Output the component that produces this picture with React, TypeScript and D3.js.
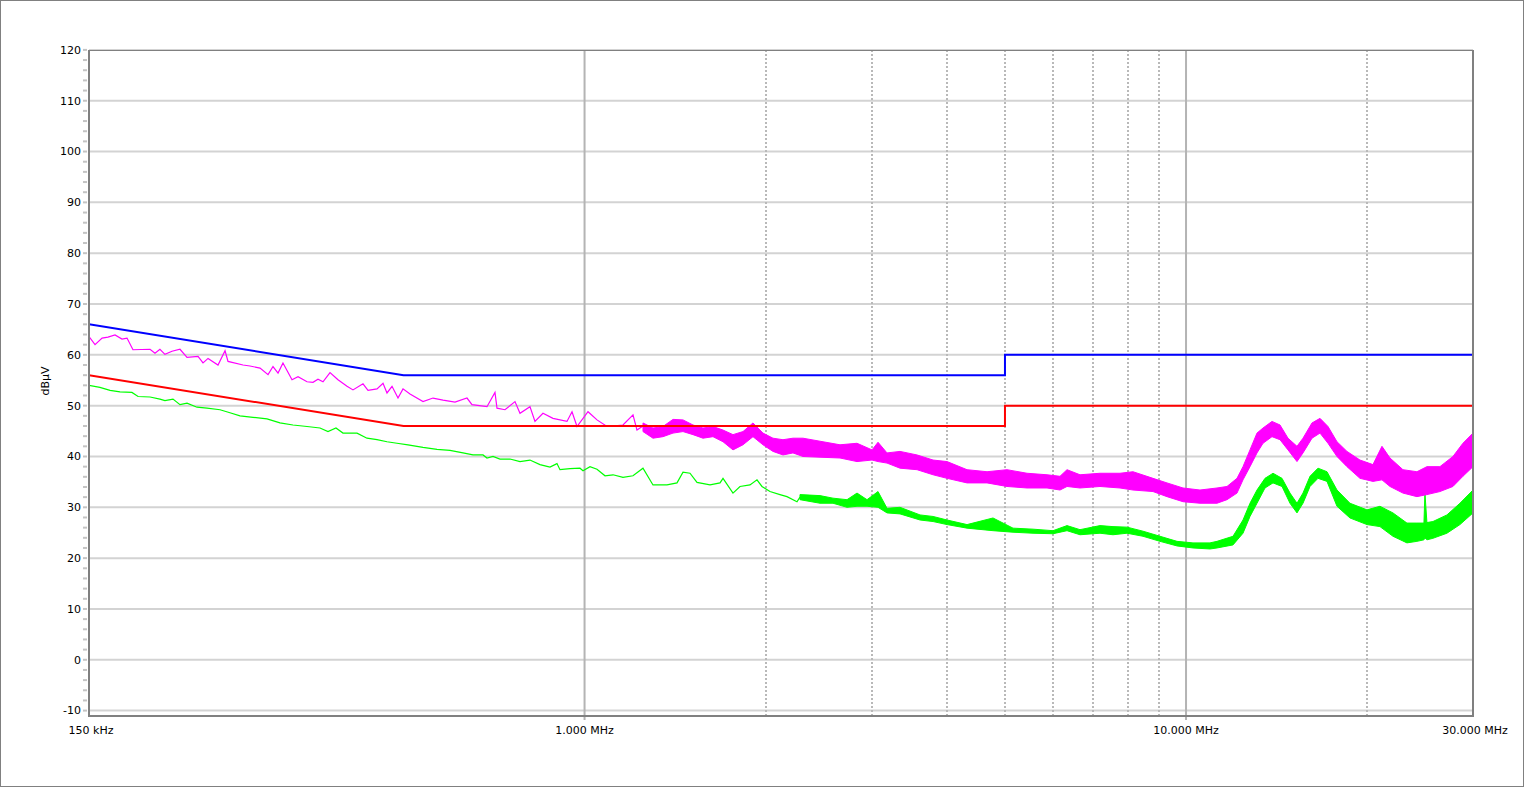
import React from "react";
import * as d3 from "d3";

// ---------- axes ----------
const Y_TICKS = [-10, 0, 10, 20, 30, 40, 50, 60, 70, 80, 90, 100, 110, 120];
const X_LABEL_FREQS = [0.15, 1, 10, 30];
const X_LABELS = ["150 kHz", "1.000 MHz", "10.000 MHz", "30.000 MHz"];
const X_MAJOR_GRID = [1, 10];
const X_MINOR_GRID = [2, 3, 4, 5, 6, 7, 8, 9, 20];
const Y_LABEL = "dBµV";

// ---------- limit lines (MHz, dBµV) ----------
const QP_LIMIT: [number, number][] = [[0.15, 66], [0.5, 56], [5, 56], [5, 60], [30, 60]];
const AV_LIMIT: [number, number][] = [[0.15, 56], [0.5, 46], [5, 46], [5, 50], [30, 50]];

// ---------- peak trace (magenta) ----------
const PEAK_LINE: [number, number][] = [
  [0.15, 63.6], [0.1535, 62.0], [0.1577, 63.3], [0.1613, 63.5], [0.1657, 63.9], [0.1702, 63.1],
  [0.1735, 63.3], [0.1775, 61.0], [0.1895, 61.1], [0.1931, 60.3], [0.1968, 61.1], [0.2006, 60.1],
  [0.2061, 60.7], [0.2125, 61.1], [0.2183, 59.5], [0.2277, 59.7], [0.2321, 58.4], [0.2366, 59.3],
  [0.2458, 58.0], [0.2525, 60.8], [0.2554, 58.7], [0.2705, 58.0], [0.2778, 57.8], [0.2887, 57.4],
  [0.2977, 56.1], [0.3034, 57.7], [0.3093, 56.4], [0.3152, 58.4], [0.3263, 55.1], [0.3339, 55.7],
  [0.3456, 54.7], [0.3536, 54.6], [0.3604, 55.2], [0.3674, 54.7], [0.3774, 56.5], [0.3891, 55.1],
  [0.4028, 53.8], [0.4121, 53.1], [0.4282, 54.3], [0.4365, 53.0], [0.4518, 53.3], [0.4623, 54.4],
  [0.4694, 52.5], [0.4785, 53.8], [0.4896, 51.5], [0.4991, 53.3], [0.5126, 52.3], [0.5388, 50.8],
  [0.5598, 51.5], [0.5817, 51.1], [0.609, 50.7], [0.6376, 51.5], [0.6499, 50.2], [0.6883, 49.8],
  [0.7097, 52.6], [0.7152, 49.5], [0.7374, 49.2], [0.7662, 50.8], [0.781, 48.5], [0.8114, 49.8],
  [0.8271, 46.9], [0.8528, 48.5], [0.8861, 47.5], [0.9349, 46.9], [0.9531, 48.8], [0.9715, 45.9],
  [1.0133, 48.8], [1.0488, 47.2], [1.0897, 45.9], [1.1585, 46.2], [1.2038, 48.2], [1.2223, 45.2],
  [1.2507, 46.0],
];
// [MHz, low, high] envelope of the dense part of the peak trace
const PEAK_BAND: [number, number, number][] = [
  [1.2507, 44.9, 46.6], [1.2995, 43.6, 45.6], [1.3502, 43.9, 45.9], [1.403, 44.6, 47.3],
  [1.4577, 44.9, 47.2], [1.5146, 44.3, 46.2], [1.5737, 43.6, 45.6], [1.6351, 43.9, 45.9],
  [1.699, 42.9, 45.2], [1.7652, 41.3, 44.3], [1.8341, 42.3, 44.9], [1.9056, 43.9, 46.6],
  [1.9799, 42.3, 44.6], [2.0572, 41.0, 43.6], [2.1374, 40.3, 43.3], [2.2209, 40.7, 43.6],
  [2.3076, 40.0, 43.6], [2.6589, 39.7, 42.3], [2.8379, 39.0, 42.6], [3.0057, 39.3, 41.3],
  [3.0755, 39.0, 42.8], [3.1834, 38.7, 40.7], [3.346, 37.7, 41.0], [3.5711, 37.4, 40.3],
  [3.7967, 36.4, 39.3], [4.0059, 35.7, 39.0], [4.3244, 34.8, 37.4], [4.6683, 34.8, 37.0],
  [5.0397, 34.1, 37.4], [5.4405, 33.8, 36.7], [5.8733, 33.8, 36.4], [6.1729, 33.4, 36.1],
  [6.3405, 34.1, 37.4], [6.664, 33.8, 36.4], [7.1942, 34.1, 36.7], [7.7666, 33.8, 36.7],
  [8.1627, 33.4, 37.0], [8.8123, 33.1, 35.7], [9.2975, 32.1, 34.8], [9.8848, 31.1, 33.8],
  [10.549, 30.8, 33.4], [11.259, 30.8, 33.8], [11.698, 31.5, 34.1], [12.155, 32.8, 35.7],
  [12.437, 35.4, 38.0], [12.775, 38.0, 41.3], [13.122, 40.7, 44.6], [13.427, 42.6, 45.6],
  [13.897, 43.9, 46.9], [14.33, 43.3, 46.2], [14.775, 41.3, 43.6], [15.293, 39.0, 42.0],
  [15.648, 40.7, 43.6], [16.197, 43.6, 46.6], [16.701, 44.6, 47.5], [17.22, 42.6, 45.9],
  [17.824, 40.0, 42.9], [18.518, 38.0, 41.0], [19.462, 35.7, 39.3], [20.455, 35.1, 38.4],
  [21.172, 35.4, 42.0], [21.831, 34.1, 39.7], [22.942, 32.8, 37.4], [24.205, 32.1, 37.0],
  [25.149, 32.5, 38.0], [26.433, 33.1, 38.0], [27.782, 34.1, 40.0], [28.866, 36.1, 42.6],
  [30.0, 38.0, 44.6],
];

// ---------- average trace (green) ----------
const AVG_LINE: [number, number][] = [
  [0.15, 54.0], [0.1564, 53.6], [0.1626, 53.0], [0.1689, 52.7], [0.1768, 52.6], [0.181, 51.8],
  [0.1895, 51.7], [0.1968, 51.3], [0.2006, 51.0], [0.2069, 51.3], [0.2125, 50.2], [0.2183, 50.5],
  [0.2268, 49.7], [0.2357, 49.5], [0.2477, 49.2], [0.2573, 48.6], [0.2674, 48.0], [0.281, 47.7],
  [0.2965, 47.4], [0.3116, 46.6], [0.3275, 46.2], [0.3456, 45.9], [0.3632, 45.6], [0.3745, 44.9],
  [0.3861, 45.6], [0.3966, 44.6], [0.4185, 44.6], [0.4348, 43.6], [0.4518, 43.3], [0.4694, 42.9],
  [0.4877, 42.6], [0.5087, 42.3], [0.5388, 41.8], [0.5685, 41.4], [0.5974, 41.2], [0.6279, 40.7],
  [0.6524, 40.3], [0.6779, 40.3], [0.6883, 39.7], [0.7043, 40.0], [0.7234, 39.5], [0.7517, 39.5],
  [0.781, 39.0], [0.8114, 39.3], [0.8431, 38.4], [0.876, 37.9], [0.8998, 38.6], [0.9102, 37.4],
  [0.9458, 37.6], [0.9827, 37.7], [0.9941, 37.2], [1.0211, 38.0], [1.0488, 37.5], [1.0814, 36.2],
  [1.115, 36.4], [1.1585, 35.9], [1.2038, 36.2], [1.2507, 37.7], [1.2995, 34.4], [1.3711, 34.4],
  [1.4246, 34.8], [1.4577, 36.9], [1.4973, 36.7], [1.538, 34.9], [1.6165, 34.4], [1.6796, 34.8],
  [1.699, 35.7], [1.7652, 32.8], [1.8131, 34.1], [1.8838, 34.4], [1.935, 35.4], [1.9723, 34.1],
  [2.0337, 33.1], [2.113, 32.5], [2.1704, 32.1], [2.2552, 31.1], [2.2812, 32.0],
];
const AVG_BAND: [number, number, number][] = [
  [2.2812, 31.5, 32.5], [2.4629, 30.8, 32.3], [2.5886, 30.8, 31.8], [2.7312, 30.0, 31.5],
  [2.8379, 30.2, 32.8], [2.9487, 30.2, 31.5], [3.0755, 30.0, 33.1], [3.1834, 28.9, 29.8],
  [3.346, 28.7, 30.0], [3.6124, 27.5, 28.5], [3.7967, 27.2, 28.2], [4.0059, 26.6, 27.5],
  [4.3244, 25.9, 26.6], [4.7767, 25.4, 27.9], [5.1568, 25.1, 25.9], [5.5669, 24.9, 25.7],
  [6.0097, 24.8, 25.4], [6.3405, 25.4, 26.4], [6.664, 24.6, 25.6], [7.1942, 24.9, 26.4],
  [7.5613, 24.6, 26.2], [7.9774, 24.9, 26.1], [8.4814, 24.3, 25.3], [9.0517, 23.3, 24.3],
  [9.6604, 22.4, 23.3], [10.27, 22.0, 23.0], [10.961, 21.8, 23.0], [11.259, 22.0, 23.3],
  [11.97, 22.6, 24.3], [12.437, 24.9, 27.5], [12.775, 28.2, 30.8], [13.122, 30.8, 33.4],
  [13.53, 33.8, 35.7], [13.951, 34.8, 36.7], [14.44, 34.1, 35.7], [14.889, 30.8, 32.8],
  [15.293, 28.9, 30.8], [15.648, 30.8, 32.8], [16.074, 34.1, 36.1], [16.573, 35.7, 37.7],
  [17.154, 35.1, 37.0], [17.824, 30.2, 33.4], [18.732, 27.9, 30.8], [19.991, 26.6, 29.5],
  [21.011, 26.2, 30.2], [22.083, 24.3, 28.9], [23.297, 23.0, 26.9], [24.205, 23.3, 26.9],
  [24.862, 23.6, 26.9], [24.957, 24.0, 32.8], [25.149, 23.6, 27.0], [25.734, 23.9, 27.2],
  [27.151, 24.9, 28.5], [28.537, 26.6, 30.8], [30.0, 28.9, 33.4],
];

const W = 1524;
const H = 787;
const LEFT = 89;
const RIGHT = 1473;
const TOP = 50;
const BOTTOM = 716;
const FONT = "'DejaVu Sans', Verdana, sans-serif";

export default function App() {
  const x = d3.scaleLog().domain([0.15, 30]).range([LEFT, RIGHT]);
  const y = d3.scaleLinear().domain([-10, 120]).range([710.6, 49.9]);

  const line = d3
    .line<[number, number]>()
    .x((d) => x(d[0]))
    .y((d) => y(d[1]));
  const area = d3
    .area<[number, number, number]>()
    .x((d) => x(d[0]))
    .y0((d) => y(d[1]))
    .y1((d) => y(d[2]));

  const minorY = d3.range(-10, 121, 2);

  return (
    <div style={{ position: "absolute", left: 0, top: 0 }}>
      <svg width={W} height={H} style={{ display: "block", background: "#fff" }}>
        <rect x={0.5} y={0.5} width={W - 1} height={H - 1} fill="#fff" stroke="#808080" />
        <defs>
          <clipPath id="plotClip">
            <rect x={LEFT} y={TOP} width={RIGHT - LEFT} height={BOTTOM - TOP} />
          </clipPath>
        </defs>

        {/* horizontal grid */}
        {Y_TICKS.map((t) => (
          <line key={"hg" + t} x1={LEFT} x2={RIGHT} y1={y(t)} y2={y(t)} stroke="#d3d3d3" strokeWidth={2} />
        ))}
        {/* minor vertical grid */}
        {X_MINOR_GRID.map((f) => (
          <line
            key={"vm" + f}
            x1={Math.round(x(f))}
            x2={Math.round(x(f))}
            y1={TOP}
            y2={BOTTOM}
            stroke="#b9b9b9"
            strokeWidth={2}
            strokeDasharray="2,2"
          />
        ))}
        {/* major vertical grid */}
        {X_MAJOR_GRID.map((f) => (
          <line key={"vM" + f} x1={x(f)} x2={x(f)} y1={TOP} y2={BOTTOM + 4} stroke="#b4b4b4" strokeWidth={2} />
        ))}

        {/* y minor ticks */}
        {minorY.map((t) => (
          <line key={"yt" + t} x1={83} x2={87} y1={y(t)} y2={y(t)} stroke="#c4c4c4" strokeWidth={2} />
        ))}

        {/* traces */}
        <g clipPath="url(#plotClip)">
          <path d={area(AVG_BAND) || ""} fill="#00ff00" stroke="#00ff00" strokeWidth={1} />
          <path d={line(AVG_LINE) || ""} fill="none" stroke="#00ff00" strokeWidth={1.2} />
          <path d={area(PEAK_BAND) || ""} fill="#ff00ff" stroke="#ff00ff" strokeWidth={1} />
          <path d={line(PEAK_LINE) || ""} fill="none" stroke="#ff00ff" strokeWidth={1.2} />
          <path d={line(QP_LIMIT) || ""} fill="none" stroke="#0000ff" strokeWidth={2} />
          <path d={line(AV_LIMIT) || ""} fill="none" stroke="#ff0000" strokeWidth={2} />
        </g>

        {/* plot frame */}
        <line x1={LEFT} x2={RIGHT} y1={TOP + 0.5} y2={TOP + 0.5} stroke="#808080" strokeWidth={1} />
        <line x1={LEFT} x2={LEFT} y1={TOP} y2={BOTTOM + 1} stroke="#808080" strokeWidth={2} />
        <line x1={RIGHT} x2={RIGHT} y1={TOP} y2={BOTTOM + 1} stroke="#808080" strokeWidth={2} />
        <line x1={LEFT - 1} x2={RIGHT + 1} y1={BOTTOM} y2={BOTTOM} stroke="#808080" strokeWidth={2} />

        {/* y labels */}
        {Y_TICKS.map((t) => (
          <text
            key={"yl" + t}
            x={81}
            y={y(t)}
            dy="0.35em"
            textAnchor="end"
            fontFamily={FONT}
            fontSize={11}
            fill="#000"
          >
            {t}
          </text>
        ))}
        {/* x labels */}
        {X_LABEL_FREQS.map((f, i) => (
          <text
            key={"xl" + f}
            x={x(f) + (i === 0 ? 2 : i === 3 ? 2 : 0)}
            y={734}
            textAnchor="middle"
            fontFamily={FONT}
            fontSize={11}
            fill="#000"
          >
            {X_LABELS[i]}
          </text>
        ))}
        <text
          transform="translate(49,381) rotate(-90)"
          textAnchor="middle"
          fontFamily={FONT}
          fontSize={11}
          fill="#000"
        >
          {Y_LABEL}
        </text>
      </svg>
    </div>
  );
}
